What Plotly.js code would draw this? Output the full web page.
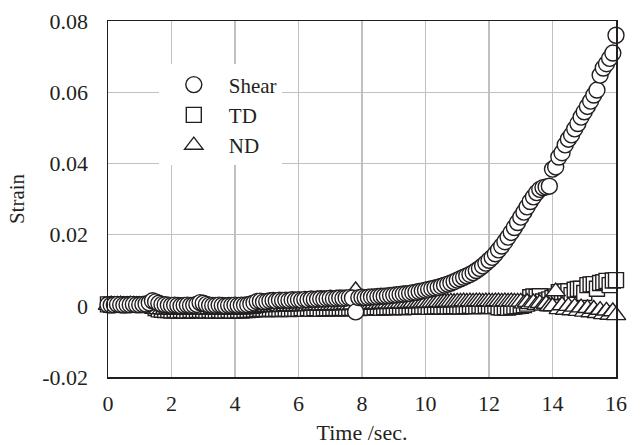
<!DOCTYPE html>
<html>
<head>
<meta charset="utf-8">
<script src="https://cdn.plot.ly/plotly-3.0.1.min.js"></script>
<style>html,body{margin:0;padding:0;background:#fff;}#chart{width:642px;height:445px;}</style>
</head>
<body>
<div id="chart"></div>
<script>
const timeSec = [
0.0,0.1,0.2,0.3,0.4,0.5,0.6,0.7,0.8,0.9,
1.0,1.1,1.2,1.3,1.4,1.5,1.6,1.7,1.8,1.9,
2.0,2.1,2.2,2.3,2.4,2.5,2.6,2.7,2.8,2.9,
3.0,3.1,3.2,3.3,3.4,3.5,3.6,3.7,3.8,3.9,
4.0,4.1,4.2,4.3,4.4,4.5,4.6,4.7,4.8,4.9,
5.0,5.1,5.2,5.3,5.4,5.5,5.6,5.7,5.8,5.9,
6.0,6.1,6.2,6.3,6.4,6.5,6.6,6.7,6.8,6.9,
7.0,7.1,7.2,7.3,7.4,7.5,7.6,7.7,7.8,7.9,
8.0,8.1,8.2,8.3,8.4,8.5,8.6,8.7,8.8,8.9,
9.0,9.1,9.2,9.3,9.4,9.5,9.6,9.7,9.8,9.9,
10.0,10.1,10.2,10.3,10.4,10.5,10.6,10.7,10.8,10.9,
11.0,11.1,11.2,11.3,11.4,11.5,11.6,11.7,11.8,11.9,
12.0,12.1,12.2,12.3,12.4,12.5,12.6,12.7,12.8,12.9,
13.0,13.1,13.2,13.3,13.4,13.5,13.6,13.7,13.8,13.9,
14.0,14.1,14.2,14.3,14.4,14.5,14.6,14.7,14.8,14.9,
15.0,15.1,15.2,15.3,15.4,15.5,15.6,15.7,15.8,15.9,
16.0];

const shear = [
0.0003,0.0002,0.0003,0.0004,0.0003,0.0002,0.0003,0.0003,0.0004,0.0003,
0.0003,0.0004,0.0005,0.0008,0.0014,0.0011,0.0007,0.0004,0.0003,0.0002,
0.0001,0.0002,0.0001,0.0000,0.0001,0.0002,0.0001,0.0002,0.0004,0.0009,
0.0007,0.0004,0.0002,0.0001,0.0001,0.0002,0.0001,0.0000,0.0001,0.0001,
0.0002,0.0001,0.0002,0.0002,0.0003,0.0005,0.0008,0.0012,0.0013,0.0011,
0.0012,0.0014,0.0015,0.0014,0.0016,0.0015,0.0016,0.0015,0.0017,0.0016,
0.0017,0.0016,0.0018,0.0017,0.0019,0.0018,0.0019,0.0020,0.0019,0.0020,
0.0021,0.0020,0.0021,0.0022,0.0021,0.0022,0.0023,0.0022,-0.0017,0.0023,
0.0024,0.0023,0.0024,0.0025,0.0025,0.0026,0.0027,0.0027,0.0028,0.0029,
0.0030,0.0031,0.0032,0.0033,0.0034,0.0035,0.0037,0.0038,0.0040,0.0042,
0.0044,0.0046,0.0048,0.0050,0.0052,0.0055,0.0058,0.0061,0.0064,0.0068,
0.0072,0.0076,0.0080,0.0084,0.0088,0.0093,0.0099,0.0105,0.0112,0.0120,
0.0128,0.0136,0.0146,0.0157,0.0168,0.0180,0.0193,0.0206,0.0220,0.0234,
0.0249,0.0263,0.0278,0.0293,0.0306,0.0318,0.0327,0.0332,0.0334,0.0336,
0.0384,0.0390,0.0418,0.0430,0.0452,0.0468,0.0480,0.0497,0.0512,0.0530,
0.0545,0.0560,0.0575,0.0592,0.0606,0.0648,0.0668,0.0680,0.0695,0.0710,
0.0760];

const td = [
0.0004,0.0003,0.0004,0.0003,0.0004,0.0004,0.0003,0.0004,0.0003,0.0004,
0.0003,0.0004,0.0003,0.0002,0.0000,-0.0006,-0.0010,-0.0011,-0.0012,-0.0012,
-0.0013,-0.0012,-0.0013,-0.0012,-0.0013,-0.0013,-0.0012,-0.0013,-0.0012,-0.0012,
-0.0012,-0.0013,-0.0012,-0.0013,-0.0013,-0.0012,-0.0013,-0.0013,-0.0012,-0.0013,
-0.0013,-0.0012,-0.0013,-0.0012,-0.0012,-0.0011,-0.0010,-0.0009,-0.0008,-0.0009,
-0.0009,-0.0008,-0.0009,-0.0008,-0.0009,-0.0008,-0.0008,-0.0009,-0.0008,-0.0008,
-0.0008,-0.0007,-0.0008,-0.0007,-0.0008,-0.0007,-0.0007,-0.0008,-0.0007,-0.0007,
-0.0007,-0.0006,-0.0007,-0.0006,-0.0006,-0.0007,-0.0006,-0.0006,-0.0005,-0.0006,
-0.0005,-0.0005,-0.0004,-0.0005,-0.0004,-0.0004,-0.0005,-0.0004,-0.0004,-0.0003,
-0.0004,-0.0003,-0.0003,-0.0004,-0.0003,-0.0003,-0.0002,-0.0003,-0.0002,-0.0002,
-0.0002,-0.0003,-0.0002,-0.0002,-0.0001,-0.0002,-0.0001,-0.0002,-0.0001,-0.0001,
-0.0001,-0.0002,-0.0001,-0.0001,0.0000,-0.0001,-0.0001,0.0000,-0.0001,0.0000,
0.0000,-0.0001,0.0000,-0.0004,-0.0005,-0.0004,-0.0005,-0.0003,-0.0002,-0.0001,
0.0000,0.0002,0.0006,0.0024,0.0026,0.0025,0.0027,0.0012,0.0015,0.0018,
0.0022,0.0026,0.0038,0.0039,0.0040,0.0041,0.0030,0.0045,0.0047,0.0048,
0.0036,0.0058,0.0060,0.0061,0.0048,0.0064,0.0066,0.0070,0.0058,0.0071,
0.0072];

const nd = [
0.0002,0.0003,0.0002,0.0002,0.0003,0.0002,0.0002,0.0003,0.0002,0.0002,
0.0002,0.0001,0.0001,0.0000,-0.0004,-0.0008,-0.0010,-0.0010,-0.0011,-0.0010,
-0.0011,-0.0010,-0.0011,-0.0010,-0.0011,-0.0010,-0.0010,-0.0011,-0.0010,-0.0010,
-0.0010,-0.0011,-0.0010,-0.0010,-0.0011,-0.0010,-0.0010,-0.0011,-0.0010,-0.0011,
-0.0011,-0.0010,-0.0011,-0.0010,-0.0010,-0.0009,-0.0007,-0.0005,-0.0004,-0.0004,
-0.0003,-0.0004,-0.0003,-0.0003,-0.0002,-0.0003,-0.0002,-0.0002,-0.0001,-0.0002,
-0.0001,-0.0001,0.0000,-0.0001,0.0000,0.0000,0.0001,0.0000,0.0001,0.0001,
0.0001,0.0002,0.0001,0.0002,0.0002,0.0003,0.0002,0.0003,0.0043,0.0003,
0.0004,0.0003,0.0004,0.0004,0.0005,0.0004,0.0005,0.0005,0.0006,0.0005,
0.0006,0.0006,0.0007,0.0006,0.0007,0.0007,0.0008,0.0007,0.0008,0.0008,
0.0009,0.0008,0.0009,0.0009,0.0010,0.0009,0.0010,0.0010,0.0011,0.0010,
0.0011,0.0011,0.0012,0.0011,0.0012,0.0011,0.0012,0.0012,0.0011,0.0012,
0.0012,0.0011,0.0012,0.0012,0.0011,0.0012,0.0011,0.0012,0.0011,0.0011,
0.0011,0.0006,0.0010,0.0004,0.0009,0.0002,0.0007,0.0000,0.0005,-0.0002,
-0.0002,0.0040,-0.0010,0.0001,-0.0012,-0.0001,-0.0013,-0.0003,-0.0015,-0.0005,
-0.0017,-0.0007,-0.0019,-0.0009,-0.0021,-0.0012,-0.0024,-0.0014,-0.0026,-0.0016,
-0.0027];

const xTickVals = [0,2,4,6,8,10,12,14,16];
const yTickVals = [-0.02,0,0.02,0.04,0.06,0.08];
const yTickText = ['-0.02','0','0.02','0.04','0.06','0.08'];

const ink = '#231f20';
const serif = 'Liberation Serif';

function series(name, y, symbol, size, rank) {
  return {
    type: 'scatter', mode: 'markers', name: name, x: timeSec, y: y,
    legendrank: rank,
    marker: {symbol: symbol, size: size, color: '#ffffff', line: {color: ink, width: 1.4}},
    cliponaxis: false
  };
}

const data = [
  series('TD', td, 'square', 15, 2),
  series('ND', nd, 'triangle-up', 17, 3),
  series('Shear', shear, 'circle', 16, 1)
];

const layout = {
  width: 642, height: 445,
  margin: {l: 108, r: 26, t: 21, b: 68},
  paper_bgcolor: '#ffffff', plot_bgcolor: '#ffffff',
  font: {family: serif, size: 22, color: ink},
  showlegend: true,
  legend: {
    x: 0.10, y: 0.878, xanchor: 'left', yanchor: 'top',
    bgcolor: '#ffffff', borderwidth: 0,
    font: {family: serif, size: 21, color: ink},
    itemsizing: 'trace', itemwidth: 60, tracegroupgap: 0
  },
  xaxis: {
    range: [0, 16], tickvals: xTickVals, ticks: '',
    showgrid: true, gridcolor: '#c0c0c0', gridwidth: 1.3,
    zeroline: false, showline: true, linecolor: ink, linewidth: 1.5, mirror: true,
    ticklabelstandoff: 6,
    tickfont: {family: serif, size: 22, color: ink},
    title: {text: 'Time /sec.', font: {family: serif, size: 22, color: ink}, standoff: 9}
  },
  yaxis: {
    range: [-0.02, 0.08], tickvals: yTickVals, ticktext: yTickText, ticks: '',
    showgrid: true, gridcolor: '#c0c0c0', gridwidth: 1.3,
    zeroline: false, showline: true, linecolor: ink, linewidth: 1.5, mirror: true,
    ticklabelstandoff: 14,
    tickfont: {family: serif, size: 22, color: ink},
    title: {text: 'Strain', font: {family: serif, size: 21, color: ink}, standoff: 12}
  }
};

Plotly.newPlot('chart', data, layout, {displayModeBar: false, staticPlot: true});
</script>
</body>
</html>
